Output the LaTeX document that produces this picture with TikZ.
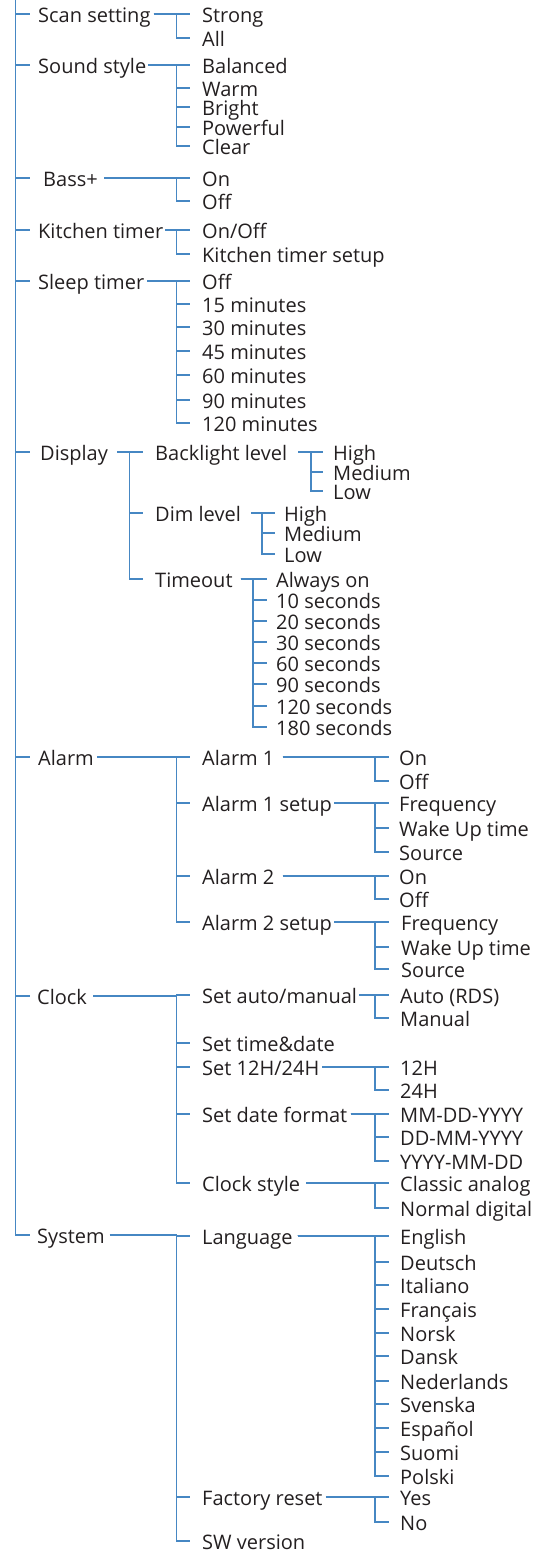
\documentclass[tikz,border=0pt]{standalone}
\usepackage{fontspec}
\setmainfont{Open Sans}
\definecolor{linec}{RGB}{70,135,195}
\definecolor{textc}{RGB}{35,31,32}
\newcommand\mybranch[5]{\draw[ln] ([xshift=#2]#1.east) -- (#1.east -| #3) |- (#5.west -| #4);}
\tikzset{
  txt/.style={anchor=west, inner sep=0pt, text height=17.3pt, text depth=0pt,
    font=\fontsize{20}{24}\selectfont, text=textc},
  ln/.style={draw=linec, line width=1.2pt}
}
\begin{document}
\begin{tikzpicture}[x=1pt,y=-1pt]
\useasboundingbox (0,0) rectangle (552,1555);
% trunk / tick-end coordinates
\coordinate (t0) at (15.5,0);  \coordinate (e0) at (30,0);
\coordinate (tA) at (176.5,0); \coordinate (eA) at (190,0);
\coordinate (tD) at (129.5,0); \coordinate (eD) at (143,0);
\coordinate (tBL) at (311,0);  \coordinate (eBL) at (323,0);
\coordinate (tDL) at (262,0);  \coordinate (eDL) at (275,0);
\coordinate (tTO) at (253,0);  \coordinate (eTO) at (267,0);
\coordinate (tC) at (375,0);   \coordinate (eC) at (389,0);
% level 1
\node[txt] (scan) at (38,14) {Scan setting};
\node[txt] (sound) at (38,65) {Sound style};
\node[txt] (bass) at (43,178) {Bass+};
\node[txt] (kitchen) at (38,230) {Kitchen timer};
\node[txt] (sleep) at (38,281) {Sleep timer};
\node[txt] (display) at (40,452) {Display};
\node[txt] (alarm) at (38,757) {Alarm};
\node[txt] (clock) at (37,996) {Clock};
\node[txt] (system) at (37,1235) {System};
\draw[ln] (t0) |- (system.west -| e0);
\foreach \n in {scan,sound,bass,kitchen,sleep,display,alarm,clock}
  \draw[ln] (\n.west -| t0) -- (\n.west -| e0);
% scan setting
\foreach \i/\y/\t in {1/14/Strong,2/38/All}
  {\node[txt] (scan\i) at (202,\y) {\t}; \mybranch{scan}{3pt}{tA}{eA}{scan\i}}
% sound style
\foreach \i/\y/\t in {1/65/Balanced,2/88/Warm,3/107/Bright,4/127/Powerful,5/146/Clear}
  {\node[txt] (sound\i) at (202,\y) {\t}; \mybranch{sound}{2pt}{tA}{eA}{sound\i}}
% bass
\foreach \i/\y/\t in {1/178/On,2/201/Off}
  {\node[txt] (bass\i) at (202,\y) {\t}; \mybranch{bass}{6pt}{tA}{eA}{bass\i}}
% kitchen
\node[txt] (kitchen1) at (202,230) {On/Off};
\node[txt] (kitchen2) at (202,254) {Kitchen timer setup};
\foreach \n in {kitchen1,kitchen2} {\mybranch{kitchen}{2pt}{tA}{eA}{\n}}
% sleep
\foreach \i/\y/\t in {1/281/Off,2/304/15 minutes,3/327/30 minutes,4/351/45 minutes,5/375/60 minutes,6/400/90 minutes,7/423/120 minutes}
  {\node[txt] (sleep\i) at (202,\y) {\t}; \mybranch{sleep}{3pt}{tA}{eA}{sleep\i}}
% display
\node[txt] (backl) at (155,452) {Backlight level};
\node[txt] (dim) at (155,513) {Dim level};
\node[txt] (tout) at (155,579) {Timeout};
\foreach \n in {backl,dim,tout} {\mybranch{display}{9pt}{tD}{eD}{\n}}
\foreach \i/\y/\t in {1/452/High,2/472/Medium,3/491/Low}
  {\node[txt] (backl\i) at (333,\y) {\t}; \mybranch{backl}{11pt}{tBL}{eBL}{backl\i}}
\foreach \i/\y/\t in {1/513/High,2/533/Medium,3/554/Low}
  {\node[txt] (dim\i) at (284,\y) {\t}; \mybranch{dim}{10pt}{tDL}{eDL}{dim\i}}
\foreach \i/\y/\t in {1/579/Always on,2/600/10 seconds,3/621/20 seconds,4/642/30 seconds,5/663/60 seconds,6/684/90 seconds,7/706/120 seconds,8/727/180 seconds}
  {\node[txt] (tout\i) at (276,\y) {\t}; \mybranch{tout}{8pt}{tTO}{eTO}{tout\i}}
% alarm
\node[txt] (al1) at (202,757) {Alarm 1};
\node[txt] (al1s) at (202,803) {Alarm 1 setup};
\node[txt] (al2) at (202,876) {Alarm 2};
\node[txt] (al2s) at (202,922) {Alarm 2 setup};
\foreach \n in {al1,al1s,al2,al2s} {\mybranch{alarm}{3pt}{tA}{eA}{\n}}
\foreach \i/\y/\t in {1/757/On,2/781/Off}
  {\node[txt] (al1\i) at (399,\y) {\t}; \mybranch{al1}{8pt}{tC}{eC}{al1\i}}
\foreach \i/\y/\t in {1/803/Frequency,2/828/Wake Up time,3/852/Source}
  {\node[txt] (al1s\i) at (399,\y) {\t}; \mybranch{al1s}{2pt}{tC}{eC}{al1s\i}}
\foreach \i/\y/\t in {1/876/On,2/899/Off}
  {\node[txt] (al2\i) at (399,\y) {\t}; \mybranch{al2}{8pt}{tC}{eC}{al2\i}}
\foreach \i/\y/\t in {1/922/Frequency,2/947/Wake Up time,3/969/Source}
  {\node[txt] (al2s\i) at (401,\y) {\t}; \mybranch{al2s}{2pt}{tC}{eC}{al2s\i}}
% clock
\node[txt] (cam) at (202,995) {Set auto/manual};
\node[txt] (ctd) at (202,1043) {Set time\&date};
\node[txt] (c12) at (202,1067) {Set 12H/24H};
\node[txt] (cdf) at (202,1114) {Set date format};
\node[txt] (cst) at (202,1183) {Clock style};
\foreach \n in {cam,ctd,c12,cdf,cst} {\mybranch{clock}{6pt}{tA}{eA}{\n}}
\foreach \i/\y/\t in {1/995/{Auto (RDS)},2/1018/Manual}
  {\node[txt] (cam\i) at (400,\y) {\t}; \mybranch{cam}{2pt}{tC}{eC}{cam\i}}
\foreach \i/\y/\t in {1/1067/12H,2/1090/24H}
  {\node[txt] (c12\i) at (400,\y) {\t}; \mybranch{c12}{3pt}{tC}{eC}{c12\i}}
\foreach \i/\y/\t in {1/1114/MM-DD-YYYY,2/1137/DD-MM-YYYY,3/1161/YYYY-MM-DD}
  {\node[txt] (cdf\i) at (400,\y) {\t}; \mybranch{cdf}{3pt}{tC}{eC}{cdf\i}}
\foreach \i/\y/\t in {1/1183/Classic analog,2/1208/Normal digital}
  {\node[txt] (cst\i) at (400,\y) {\t}; \mybranch{cst}{6pt}{tC}{eC}{cst\i}}
% system
\node[txt] (lang) at (202,1236) {Language};
\node[txt] (frst) at (202,1497) {Factory reset};
\node[txt] (swv) at (202,1541) {SW version};
\foreach \n in {lang,frst,swv} {\mybranch{system}{5pt}{tA}{eA}{\n}}
\foreach \i/\y/\t in {1/1236/English,2/1262/Deutsch,3/1285/Italiano,4/1309/Français,5/1333/Norsk,6/1356/Dansk,7/1381/Nederlands,8/1404/Svenska,9/1428/Español,10/1452/Suomi,11/1476/Polski}
  {\node[txt] (lang\i) at (400,\y) {\t}; \mybranch{lang}{5pt}{tC}{eC}{lang\i}}
\foreach \i/\y/\t in {1/1497/Yes,2/1522/No}
  {\node[txt] (frst\i) at (400,\y) {\t}; \mybranch{frst}{3pt}{tC}{eC}{frst\i}}
\end{tikzpicture}
\end{document}
